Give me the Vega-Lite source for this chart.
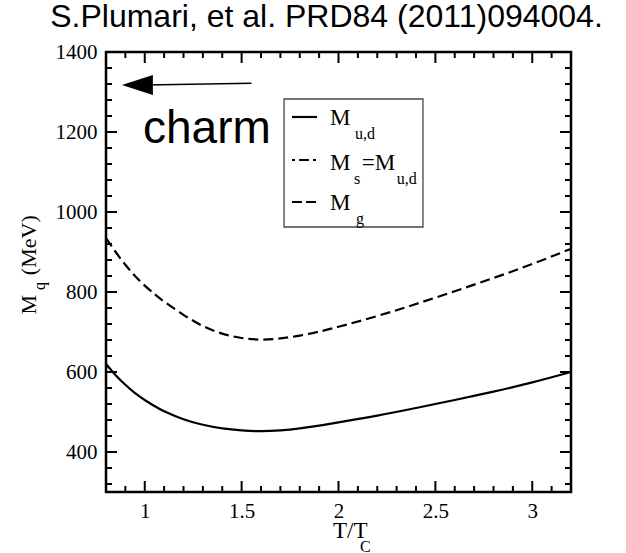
{
  "$schema": "https://vega.github.io/schema/vega-lite/v6.json",
  "width": 465,
  "height": 440,
  "autosize": {"type": "none"},
  "padding": {"left": 106, "top": 52, "right": 55, "bottom": 61},
  "background": "white",
  "config": {"view": {"stroke": "black", "strokeWidth": 2.5}},
  "title": {"text": "S.Plumari, et al. PRD84 (2011)094004.", "font": "Liberation Sans", "fontSize": 32, "fontWeight": "normal", "color": "black", "anchor": "middle", "frame": "group", "offset": 20, "baseline": "alphabetic", "dx": -12, "dy": 38},
  "datasets": {
    "curves": [
      {"T": 0.8, "M": 620, "series": "Mud"}, {"T": 0.85, "M": 592, "series": "Mud"}, {"T": 0.9, "M": 568, "series": "Mud"}, {"T": 0.95, "M": 547, "series": "Mud"},
      {"T": 1.0, "M": 530, "series": "Mud"}, {"T": 1.05, "M": 515, "series": "Mud"}, {"T": 1.1, "M": 502, "series": "Mud"}, {"T": 1.2, "M": 482, "series": "Mud"},
      {"T": 1.3, "M": 468, "series": "Mud"}, {"T": 1.4, "M": 459, "series": "Mud"}, {"T": 1.5, "M": 454, "series": "Mud"}, {"T": 1.6, "M": 452, "series": "Mud"},
      {"T": 1.7, "M": 454, "series": "Mud"}, {"T": 1.8, "M": 459, "series": "Mud"}, {"T": 1.9, "M": 466, "series": "Mud"}, {"T": 2.0, "M": 474, "series": "Mud"},
      {"T": 2.2, "M": 491, "series": "Mud"}, {"T": 2.4, "M": 510, "series": "Mud"}, {"T": 2.6, "M": 530, "series": "Mud"}, {"T": 2.8, "M": 551, "series": "Mud"},
      {"T": 3.0, "M": 574, "series": "Mud"}, {"T": 3.2, "M": 600, "series": "Mud"},
      {"T": 0.8, "M": 935, "series": "Mg"}, {"T": 0.85, "M": 900, "series": "Mg"}, {"T": 0.9, "M": 868, "series": "Mg"}, {"T": 0.95, "M": 840, "series": "Mg"},
      {"T": 1.0, "M": 816, "series": "Mg"}, {"T": 1.05, "M": 795, "series": "Mg"}, {"T": 1.1, "M": 776, "series": "Mg"}, {"T": 1.2, "M": 743, "series": "Mg"},
      {"T": 1.3, "M": 715, "series": "Mg"}, {"T": 1.4, "M": 696, "series": "Mg"}, {"T": 1.5, "M": 685, "series": "Mg"}, {"T": 1.6, "M": 681, "series": "Mg"},
      {"T": 1.7, "M": 684, "series": "Mg"}, {"T": 1.8, "M": 691, "series": "Mg"}, {"T": 1.9, "M": 701, "series": "Mg"}, {"T": 2.0, "M": 713, "series": "Mg"},
      {"T": 2.2, "M": 740, "series": "Mg"}, {"T": 2.4, "M": 770, "series": "Mg"}, {"T": 2.6, "M": 802, "series": "Mg"}, {"T": 2.8, "M": 835, "series": "Mg"},
      {"T": 3.0, "M": 870, "series": "Mg"}, {"T": 3.2, "M": 908, "series": "Mg"}
    ],
    "xticks": [
      {"v": 0.9, "kind": "minor"}, {"v": 1.0, "kind": "major"}, {"v": 1.1, "kind": "minor"}, {"v": 1.2, "kind": "minor"}, {"v": 1.3, "kind": "minor"}, {"v": 1.4, "kind": "minor"},
      {"v": 1.5, "kind": "major"}, {"v": 1.6, "kind": "minor"}, {"v": 1.7, "kind": "minor"}, {"v": 1.8, "kind": "minor"}, {"v": 1.9, "kind": "minor"},
      {"v": 2.0, "kind": "major"}, {"v": 2.1, "kind": "minor"}, {"v": 2.2, "kind": "minor"}, {"v": 2.3, "kind": "minor"}, {"v": 2.4, "kind": "minor"},
      {"v": 2.5, "kind": "major"}, {"v": 2.6, "kind": "minor"}, {"v": 2.7, "kind": "minor"}, {"v": 2.8, "kind": "minor"}, {"v": 2.9, "kind": "minor"},
      {"v": 3.0, "kind": "major"}, {"v": 3.1, "kind": "minor"}
    ],
    "yticks": [
      {"v": 320, "kind": "minor"}, {"v": 360, "kind": "minor"}, {"v": 400, "kind": "major"}, {"v": 440, "kind": "minor"}, {"v": 480, "kind": "minor"},
      {"v": 520, "kind": "minor"}, {"v": 560, "kind": "minor"}, {"v": 600, "kind": "major"}, {"v": 640, "kind": "minor"}, {"v": 680, "kind": "minor"},
      {"v": 720, "kind": "minor"}, {"v": 760, "kind": "minor"}, {"v": 800, "kind": "major"}, {"v": 840, "kind": "minor"}, {"v": 880, "kind": "minor"},
      {"v": 920, "kind": "minor"}, {"v": 960, "kind": "minor"}, {"v": 1000, "kind": "major"}, {"v": 1040, "kind": "minor"}, {"v": 1080, "kind": "minor"},
      {"v": 1120, "kind": "minor"}, {"v": 1160, "kind": "minor"}, {"v": 1200, "kind": "major"}, {"v": 1240, "kind": "minor"}, {"v": 1280, "kind": "minor"},
      {"v": 1320, "kind": "minor"}, {"v": 1360, "kind": "minor"}
    ],
    "box": [{"x1": 1.719, "x2": 2.436, "y1": 1282.5, "y2": 962.5}],
    "legendLines": [
      {"x1": 1.76, "x2": 1.889, "y": 1237.5, "series": "Mud"},
      {"x1": 1.76, "x2": 1.889, "y": 1130, "series": "Ms"},
      {"x1": 1.76, "x2": 1.889, "y": 1025, "series": "Mg"}
    ],
    "arrowLine": [{"x1": 1.0, "x2": 1.551, "y1": 1317.5, "y2": 1321.7}],
    "arrowHead": [{"x": 0.962, "y": 1317.5}],
    "bigText": [{"x": 0.991, "y": 1172.5, "text": "charm"}],
    "mainText": [
      {"x": 1.956, "y": 1217.5, "text": "M"},
      {"x": 1.956, "y": 1105, "text": "M"},
      {"x": 2.12, "y": 1105, "text": "=M"},
      {"x": 1.956, "y": 1005, "text": "M"},
      {"x": 1.972, "y": 185, "text": "T/T"}
    ],
    "subText": [
      {"x": 2.085, "y": 1182.5, "text": "u,d"},
      {"x": 2.08, "y": 1070, "text": "s"},
      {"x": 2.3, "y": 1070, "text": "u,d"},
      {"x": 2.09, "y": 970, "text": "g"},
      {"x": 2.111, "y": 150, "text": "C"}
    ],
    "yTitle": [
      {"x": 0.403, "y": 768, "text": "M"},
      {"x": 0.403, "y": 917, "text": "(MeV)"}
    ],
    "ySub": [{"x": 0.459, "y": 815, "text": "q"}]
  },
  "layer": [
    {
      "data": {"name": "curves"},
      "transform": [{"filter": "datum.series == 'Mud'"}],
      "mark": {"type": "line", "color": "black", "strokeWidth": 2.2, "interpolate": "natural"},
      "encoding": {
        "x": {"field": "T", "type": "quantitative", "scale": {"domain": [0.8, 3.2], "nice": false, "zero": false},
          "axis": {"orient": "bottom", "values": [1, 1.5, 2, 2.5, 3], "format": "~g",
            "ticks": false, "domain": false, "grid": false,
            "labelFont": "Liberation Serif", "labelFontSize": 21, "labelColor": "black", "labelPadding": 8,
            "labelFlush": false, "labelOverlap": false, "title": null}},
        "y": {"field": "M", "type": "quantitative", "scale": {"domain": [300, 1400], "nice": false, "zero": false},
          "axis": {"orient": "left", "values": [400, 600, 800, 1000, 1200, 1400], "format": "d",
            "ticks": false, "domain": false, "grid": false,
            "labelFont": "Liberation Serif", "labelFontSize": 21, "labelColor": "black", "labelPadding": 9,
            "labelFlush": false, "labelOverlap": false, "title": null}}
      }
    },
    {
      "data": {"name": "curves"},
      "transform": [{"filter": "datum.series == 'Mg'"}],
      "mark": {"type": "line", "color": "black", "strokeWidth": 2.2, "strokeDash": [10, 5], "interpolate": "natural"},
      "encoding": {
        "x": {"field": "T", "type": "quantitative", "scale": {"domain": [0.8, 3.2], "nice": false, "zero": false}, "axis": null},
        "y": {"field": "M", "type": "quantitative", "scale": {"domain": [300, 1400], "nice": false, "zero": false}, "axis": null}
      }
    },
    {
      "data": {"name": "xticks"},
      "transform": [{"filter": "datum.kind == 'major'"}],
      "mark": {"type": "rule", "color": "black", "strokeWidth": 2},
      "encoding": {
        "x": {"field": "v", "type": "quantitative", "scale": {"domain": [0.8, 3.2], "nice": false, "zero": false}, "axis": null},
        "y": {"datum": 300, "type": "quantitative", "scale": {"domain": [300, 1400], "nice": false, "zero": false}, "axis": null},
        "y2": {"datum": 327.5}
      }
    },
    {
      "data": {"name": "xticks"},
      "transform": [{"filter": "datum.kind == 'minor'"}],
      "mark": {"type": "rule", "color": "black", "strokeWidth": 2},
      "encoding": {
        "x": {"field": "v", "type": "quantitative", "scale": {"domain": [0.8, 3.2], "nice": false, "zero": false}, "axis": null},
        "y": {"datum": 300, "type": "quantitative", "scale": {"domain": [300, 1400], "nice": false, "zero": false}, "axis": null},
        "y2": {"datum": 315}
      }
    },
    {
      "data": {"name": "xticks"},
      "transform": [{"filter": "datum.kind == 'major'"}],
      "mark": {"type": "rule", "color": "black", "strokeWidth": 2},
      "encoding": {
        "x": {"field": "v", "type": "quantitative", "scale": {"domain": [0.8, 3.2], "nice": false, "zero": false}, "axis": null},
        "y": {"datum": 1400, "type": "quantitative", "scale": {"domain": [300, 1400], "nice": false, "zero": false}, "axis": null},
        "y2": {"datum": 1372.5}
      }
    },
    {
      "data": {"name": "xticks"},
      "transform": [{"filter": "datum.kind == 'minor'"}],
      "mark": {"type": "rule", "color": "black", "strokeWidth": 2},
      "encoding": {
        "x": {"field": "v", "type": "quantitative", "scale": {"domain": [0.8, 3.2], "nice": false, "zero": false}, "axis": null},
        "y": {"datum": 1400, "type": "quantitative", "scale": {"domain": [300, 1400], "nice": false, "zero": false}, "axis": null},
        "y2": {"datum": 1385}
      }
    },
    {
      "data": {"name": "yticks"},
      "transform": [{"filter": "datum.kind == 'major'"}],
      "mark": {"type": "rule", "color": "black", "strokeWidth": 2},
      "encoding": {
        "y": {"field": "v", "type": "quantitative", "scale": {"domain": [300, 1400], "nice": false, "zero": false}, "axis": null},
        "x": {"datum": 0.8, "type": "quantitative", "scale": {"domain": [0.8, 3.2], "nice": false, "zero": false}, "axis": null},
        "x2": {"datum": 0.8568}
      }
    },
    {
      "data": {"name": "yticks"},
      "transform": [{"filter": "datum.kind == 'minor'"}],
      "mark": {"type": "rule", "color": "black", "strokeWidth": 2},
      "encoding": {
        "y": {"field": "v", "type": "quantitative", "scale": {"domain": [300, 1400], "nice": false, "zero": false}, "axis": null},
        "x": {"datum": 0.8, "type": "quantitative", "scale": {"domain": [0.8, 3.2], "nice": false, "zero": false}, "axis": null},
        "x2": {"datum": 0.831}
      }
    },
    {
      "data": {"name": "yticks"},
      "transform": [{"filter": "datum.kind == 'major'"}],
      "mark": {"type": "rule", "color": "black", "strokeWidth": 2},
      "encoding": {
        "y": {"field": "v", "type": "quantitative", "scale": {"domain": [300, 1400], "nice": false, "zero": false}, "axis": null},
        "x": {"datum": 3.2, "type": "quantitative", "scale": {"domain": [0.8, 3.2], "nice": false, "zero": false}, "axis": null},
        "x2": {"datum": 3.1432}
      }
    },
    {
      "data": {"name": "yticks"},
      "transform": [{"filter": "datum.kind == 'minor'"}],
      "mark": {"type": "rule", "color": "black", "strokeWidth": 2},
      "encoding": {
        "y": {"field": "v", "type": "quantitative", "scale": {"domain": [300, 1400], "nice": false, "zero": false}, "axis": null},
        "x": {"datum": 3.2, "type": "quantitative", "scale": {"domain": [0.8, 3.2], "nice": false, "zero": false}, "axis": null},
        "x2": {"datum": 3.169}
      }
    },
    {
      "data": {"name": "box"},
      "mark": {"type": "rect", "fill": "white", "fillOpacity": 0, "stroke": "#444444", "strokeWidth": 1.3},
      "encoding": {
        "x": {"field": "x1", "type": "quantitative", "scale": {"domain": [0.8, 3.2], "nice": false, "zero": false}, "axis": null},
        "x2": {"field": "x2"},
        "y": {"field": "y1", "type": "quantitative", "scale": {"domain": [300, 1400], "nice": false, "zero": false}, "axis": null},
        "y2": {"field": "y2"}
      }
    },
    {
      "data": {"name": "legendLines"},
      "transform": [{"filter": "datum.series == 'Mud'"}],
      "mark": {"type": "rule", "color": "black", "strokeWidth": 2.2},
      "encoding": {
        "x": {"field": "x1", "type": "quantitative", "scale": {"domain": [0.8, 3.2], "nice": false, "zero": false}, "axis": null},
        "x2": {"field": "x2"},
        "y": {"field": "y", "type": "quantitative", "scale": {"domain": [300, 1400], "nice": false, "zero": false}, "axis": null}
      }
    },
    {
      "data": {"name": "legendLines"},
      "transform": [{"filter": "datum.series == 'Ms'"}],
      "mark": {"type": "rule", "color": "black", "strokeWidth": 2.2, "strokeDash": [3, 4, 10, 4]},
      "encoding": {
        "x": {"field": "x1", "type": "quantitative", "scale": {"domain": [0.8, 3.2], "nice": false, "zero": false}, "axis": null},
        "x2": {"field": "x2"},
        "y": {"field": "y", "type": "quantitative", "scale": {"domain": [300, 1400], "nice": false, "zero": false}, "axis": null}
      }
    },
    {
      "data": {"name": "legendLines"},
      "transform": [{"filter": "datum.series == 'Mg'"}],
      "mark": {"type": "rule", "color": "black", "strokeWidth": 2.2, "strokeDash": [10, 4]},
      "encoding": {
        "x": {"field": "x1", "type": "quantitative", "scale": {"domain": [0.8, 3.2], "nice": false, "zero": false}, "axis": null},
        "x2": {"field": "x2"},
        "y": {"field": "y", "type": "quantitative", "scale": {"domain": [300, 1400], "nice": false, "zero": false}, "axis": null}
      }
    },
    {
      "data": {"name": "arrowLine"},
      "mark": {"type": "rule", "color": "black", "strokeWidth": 1.5},
      "encoding": {
        "x": {"field": "x1", "type": "quantitative", "scale": {"domain": [0.8, 3.2], "nice": false, "zero": false}, "axis": null},
        "x2": {"field": "x2"},
        "y": {"field": "y1", "type": "quantitative", "scale": {"domain": [300, 1400], "nice": false, "zero": false}, "axis": null},
        "y2": {"field": "y2"}
      }
    },
    {
      "data": {"name": "arrowHead"},
      "mark": {"type": "point", "shape": "M -1 0 L 1 -0.65 L 1 0.65 Z", "filled": true, "color": "black", "size": 961, "opacity": 1, "strokeWidth": 0},
      "encoding": {
        "x": {"field": "x", "type": "quantitative", "scale": {"domain": [0.8, 3.2], "nice": false, "zero": false}, "axis": null},
        "y": {"field": "y", "type": "quantitative", "scale": {"domain": [300, 1400], "nice": false, "zero": false}, "axis": null}
      }
    },
    {
      "data": {"name": "bigText"},
      "mark": {"type": "text", "font": "Liberation Sans", "fontSize": 46, "align": "left", "baseline": "alphabetic", "color": "black"},
      "encoding": {
        "x": {"field": "x", "type": "quantitative", "scale": {"domain": [0.8, 3.2], "nice": false, "zero": false}, "axis": null},
        "y": {"field": "y", "type": "quantitative", "scale": {"domain": [300, 1400], "nice": false, "zero": false}, "axis": null},
        "text": {"field": "text"}
      }
    },
    {
      "data": {"name": "mainText"},
      "mark": {"type": "text", "font": "Liberation Serif", "fontSize": 23, "align": "left", "baseline": "alphabetic", "color": "black"},
      "encoding": {
        "x": {"field": "x", "type": "quantitative", "scale": {"domain": [0.8, 3.2], "nice": false, "zero": false}, "axis": null},
        "y": {"field": "y", "type": "quantitative", "scale": {"domain": [300, 1400], "nice": false, "zero": false}, "axis": null},
        "text": {"field": "text"}
      }
    },
    {
      "data": {"name": "subText"},
      "mark": {"type": "text", "font": "Liberation Serif", "fontSize": 16, "align": "left", "baseline": "alphabetic", "color": "black"},
      "encoding": {
        "x": {"field": "x", "type": "quantitative", "scale": {"domain": [0.8, 3.2], "nice": false, "zero": false}, "axis": null},
        "y": {"field": "y", "type": "quantitative", "scale": {"domain": [300, 1400], "nice": false, "zero": false}, "axis": null},
        "text": {"field": "text"}
      }
    },
    {
      "data": {"name": "yTitle"},
      "mark": {"type": "text", "font": "Liberation Serif", "fontSize": 22, "align": "center", "baseline": "middle", "angle": 270, "color": "black"},
      "encoding": {
        "x": {"field": "x", "type": "quantitative", "scale": {"domain": [0.8, 3.2], "nice": false, "zero": false}, "axis": null},
        "y": {"field": "y", "type": "quantitative", "scale": {"domain": [300, 1400], "nice": false, "zero": false}, "axis": null},
        "text": {"field": "text"}
      }
    },
    {
      "data": {"name": "ySub"},
      "mark": {"type": "text", "font": "Liberation Serif", "fontSize": 16, "align": "center", "baseline": "middle", "angle": 270, "color": "black"},
      "encoding": {
        "x": {"field": "x", "type": "quantitative", "scale": {"domain": [0.8, 3.2], "nice": false, "zero": false}, "axis": null},
        "y": {"field": "y", "type": "quantitative", "scale": {"domain": [300, 1400], "nice": false, "zero": false}, "axis": null},
        "text": {"field": "text"}
      }
    }
  ],
  "resolve": {"axis": {"x": "independent", "y": "independent"}}
}
